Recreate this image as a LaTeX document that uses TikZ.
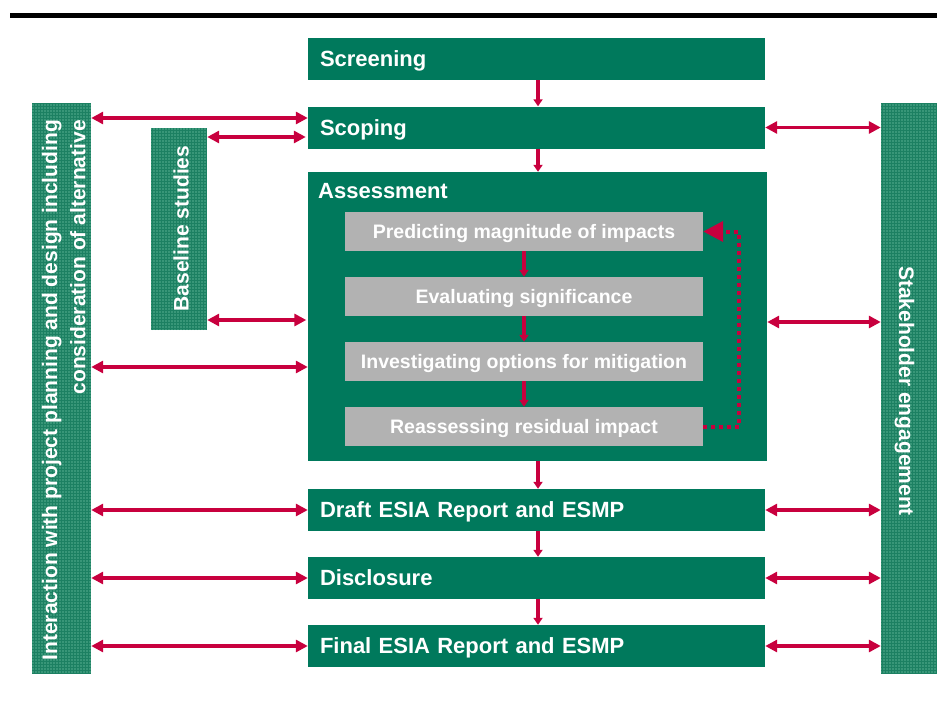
\documentclass[tikz,border=0pt]{standalone}
\usepackage{fontspec}
\setmainfont{Liberation Sans}
\usetikzlibrary{arrows.meta,calc}
\definecolor{esgreen}{RGB}{0,121,92}
\definecolor{esbar}{RGB}{56,150,120}
\definecolor{esgrid}{RGB}{28,128,98}
\definecolor{esred}{RGB}{200,0,62}
\definecolor{esgrey}{RGB}{178,178,178}
\begin{document}
\begin{tikzpicture}[x=1pt,y=-1pt,
  stagebox/.style={fill=esgreen, text=white, font=\fontsize{22}{26}\selectfont\bfseries,
    minimum height=42pt, inner xsep=12pt, inner ysep=0pt, text width=433pt, align=left,
    text height=17.8pt, text depth=2pt},
  greybox/.style={fill=esgrey, text=white, font=\fontsize{19.5}{23}\selectfont\bfseries,
    minimum width=358pt, minimum height=39pt, inner sep=0pt,
    text height=15.5pt, text depth=1.5pt},
  barbox/.style={fill=esbar, inner sep=0pt,
    path picture={\draw[esgrid, line width=.35pt] (path picture bounding box.south west)
      grid[step=3pt] (path picture bounding box.north east);}},
  bartext/.style={text=white, font=\fontsize{21}{28.3}\selectfont\bfseries, inner sep=0pt},
  biarrow/.style={esred, line width=3.6pt,
    {Triangle[length=12pt,width=12pt]}-{Triangle[length=12pt,width=12pt]}},
  flowarrow/.style={esred, line width=3.4pt, -{Triangle[length=7pt,width=9pt]}},
  dotloop/.style={esred, line width=4pt, dash pattern=on 4pt off 4pt,
    -{Triangle[length=20pt,width=20pt]}}
]
\useasboundingbox (0,0) rectangle (937,704);
% top rule
\fill[black] (10,13) rectangle (937,17.5);

% side bars
\node[barbox, minimum width=59pt, minimum height=570pt] (leftbar) at (61.5,388) {};
\node[barbox, minimum width=56pt, minimum height=202pt] (basebar) at (179,229) {};
\node[barbox, minimum width=56pt, minimum height=570pt] (rightbar) at (909,388) {};

\node[bartext, rotate=90, align=right, anchor=north east] (leftlbl) at (41.7,120)
  {Interaction with project planning and design including\\consideration of alternative};
\node[bartext, rotate=90] (baselbl) at (181,228.5) {Baseline studies};
\node[bartext, rotate=-90, anchor=base west] (rightlbl) at (899,266) {Stakeholder engagement};

% main stages
\node[stagebox] (screening) at (536.5,59) {Screening};
\node[stagebox] (scoping) at (536.5,127.5) {Scoping};
\node[fill=esgreen, minimum width=459pt, minimum height=289pt, inner sep=0pt] (assess) at (537.5,316.5) {};
\node[text=white, font=\fontsize{22}{26}\selectfont\bfseries, anchor=west, inner sep=0pt] (assesstitle) at (318,191) {Assessment};
\node[stagebox] (draft) at (536.5,510) {Draft ESIA Report and ESMP};
\node[stagebox] (disclosure) at (536.5,578) {Disclosure};
\node[stagebox] (final) at (536.5,646) {Final ESIA Report and ESMP};

% assessment steps
\node[greybox] (g1) at (524,231.5) {Predicting magnitude of impacts};
\node[greybox] (g2) at (524,296.5) {Evaluating significance};
\node[greybox] (g3) at (524,361.5) {Investigating options for mitigation};
\node[greybox] (g4) at (524,426.5) {Reassessing residual impact};

% vertical flow
\draw[flowarrow] ([xshift=1.5pt]screening.south) -- ([xshift=1.5pt]scoping.north);
\draw[flowarrow] ([xshift=1.5pt]scoping.south) -- ([xshift=0.5pt]assess.north);
\draw[flowarrow] ([xshift=0.5pt]assess.south) -- ([xshift=1.5pt]draft.north);
\draw[flowarrow] ([xshift=1.5pt]draft.south) -- ([xshift=1.5pt]disclosure.north);
\draw[flowarrow] ([xshift=1.5pt]disclosure.south) -- ([xshift=1.5pt]final.north);
\draw[flowarrow] (g1.south) -- (g2.north);
\draw[flowarrow] (g2.south) -- (g3.north);
\draw[flowarrow] (g3.south) -- (g4.north);
\draw[dotloop] (g4.east) -- ++(36,0) |- (g1.east);

% left interactions
\coordinate (sL) at ([yshift=9.5pt]scoping.west);
\coordinate (sB) at ([yshift=-9.5pt,xshift=-2pt]scoping.west);
\coordinate (aB) at ([yshift=-3.5pt,xshift=-1.5pt]assess.west);
\coordinate (aL) at ([yshift=-50.5pt]assess.west);
\draw[biarrow] (sL -| leftbar.east) -- (sL);
\draw[biarrow] (sB -| basebar.east) -- (sB);
\draw[biarrow] (aB -| basebar.east) -- (aB);
\draw[biarrow] (aL -| leftbar.east) -- (aL);
\draw[biarrow] (draft.west -| leftbar.east) -- (draft.west);
\draw[biarrow] (disclosure.west -| leftbar.east) -- (disclosure.west);
\draw[biarrow] (final.west -| leftbar.east) -- (final.west);

% right interactions
\coordinate (aR) at ([yshift=-5.5pt]assess.east);
\draw[biarrow] (scoping.east) -- (scoping.east -| rightbar.west);
\draw[biarrow] (aR) -- (aR -| rightbar.west);
\draw[biarrow] (draft.east) -- (draft.east -| rightbar.west);
\draw[biarrow] (disclosure.east) -- (disclosure.east -| rightbar.west);
\draw[biarrow] (final.east) -- (final.east -| rightbar.west);
\end{tikzpicture}
\end{document}
